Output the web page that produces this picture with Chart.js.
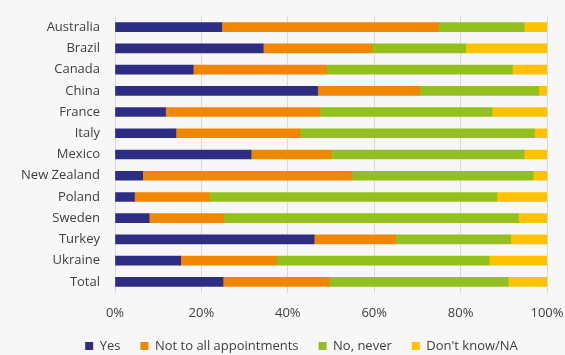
<!DOCTYPE html>
<html>
<head>
<meta charset="utf-8">
<script src="https://cdn.jsdelivr.net/npm/chart.js@4/dist/chart.umd.min.js"></script>
<style>
  html, body { margin: 0; padding: 0; background: #f7f7f7; }
  #wrap { width: 565px; height: 355px; }
</style>
</head>
<body>
<div id="wrap"><canvas id="chart" width="565" height="355"></canvas></div>
<script>
// Data (percent of respondents)
const countries = ["Australia", "Brazil", "Canada", "China", "France", "Italy", "Mexico",
  "New Zealand", "Poland", "Sweden", "Turkey", "Ukraine", "Total"];
const yesValues = [24.7, 34.3, 18.1, 46.9, 11.7, 14.1, 31.5, 6.4, 4.5, 7.9, 46.1, 15.2, 25.0];
const notAllValues = [50.2, 25.2, 30.8, 23.6, 35.7, 28.7, 18.5, 48.4, 17.3, 17.3, 18.8, 22.2, 24.6];
const neverValues = [19.8, 21.7, 43.1, 27.6, 39.9, 54.3, 44.7, 42.0, 66.6, 68.2, 26.7, 49.2, 41.4];
const dontKnowValues = [5.3, 18.8, 8.0, 1.9, 12.7, 2.9, 5.3, 3.2, 11.6, 6.6, 8.4, 13.4, 9.0];
const xTicks = [0, 20, 40, 60, 80, 100];

const textColor = "#404040";
const fontFamily = "'Open Sans', sans-serif";

// the original legend sits a bit right of the canvas centre
const legendShift = {
  id: "legendShift",
  afterLayout(chart) {
    chart.legend.left += 28;
    chart.legend.right += 28;
  }
};

const ctx = document.getElementById("chart").getContext("2d");
new Chart(ctx, {
  type: "bar",
  data: {
    labels: countries,
    datasets: [
      { label: "Yes", data: yesValues, backgroundColor: "#2e2d84" },
      { label: "Not to all appointments", data: notAllValues, backgroundColor: "#f08700" },
      { label: "No, never", data: neverValues, backgroundColor: "#93c01f" },
      { label: "Don't know/NA", data: dontKnowValues, backgroundColor: "#fec200" }
    ]
  },
  plugins: [legendShift],
  options: {
    indexAxis: "y",
    responsive: false,
    animation: false,
    barThickness: 9,
    layout: { padding: { left: 0, right: 18, top: 16.5, bottom: -7.5 } },
    scales: {
      x: {
        stacked: true,
        min: 0,
        max: 100,
        afterBuildTicks: (scale) => { scale.ticks = xTicks.map(v => ({ value: v })); },
        afterFit: (scale) => {
          scale.height = 27;
          scale.paddingLeft = 0;
          scale.paddingRight = 0;
        },
        grid: { color: "#d9d9d9", lineWidth: 1, drawTicks: false },
        border: { display: false },
        ticks: {
          padding: 13,
          color: textColor,
          font: { family: fontFamily, size: 13 },
          callback: (v) => v + "%"
        }
      },
      y: {
        stacked: true,
        afterFit: (scale) => {
          scale.width = 115;
          scale.paddingTop = 0;
          scale.paddingBottom = 0;
        },
        grid: { display: false, drawTicks: false },
        border: { display: false },
        ticks: {
          padding: 15,
          color: textColor,
          font: { family: fontFamily, size: 13 }
        }
      }
    },
    plugins: {
      tooltip: { enabled: false },
      legend: {
        position: "bottom",
        labels: {
          color: textColor,
          font: { family: fontFamily, size: 13 },
          boxWidth: 8,
          boxHeight: 8,
          padding: 20
        }
      }
    }
  }
});
</script>
</body>
</html>
